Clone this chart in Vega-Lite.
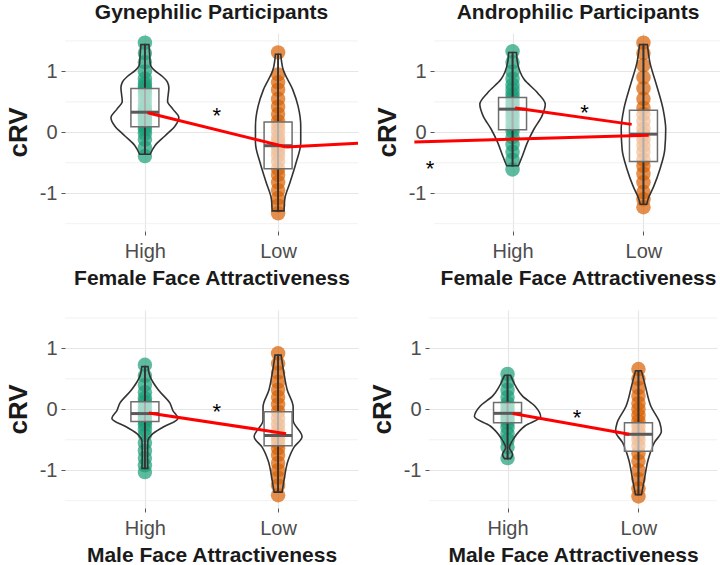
{
  "$schema": "https://vega.github.io/schema/vega-lite/v6.json",
  "background": "white",
  "padding": {"top": 2, "left": 5, "right": 0, "bottom": 0},
  "config": {
    "font": "Liberation Sans",
    "locale": {"number": {"decimal": ".", "thousands": ",", "grouping": [3], "currency": ["$", ""], "minus": "-"}},
    "view": {"stroke": null},
    "axis": {"domain": false, "gridColor": "#e6e6e6", "gridWidth": 1.2, "tickColor": "#555555", "tickSize": 4, "labelFontSize": 20, "labelColor": "#4d4d4d", "titleFontWeight": "bold", "titleColor": "#1a1a1a"},
    "axisX": {"labelAngle": 0, "labelPadding": 6, "titlePadding": 6, "titleFontSize": 21},
    "axisY": {"labelPadding": 4, "titlePadding": 8, "titleFontSize": 26, "format": "d"},
    "title": {"fontSize": 21, "fontWeight": "bold", "color": "#1a1a1a", "offset": 10, "anchor": "middle", "frame": "group"}
  },
  "datasets": {
    "minor_grid": [{"g": -1.5}, {"g": -0.5}, {"g": 0.5}, {"g": 1.5}],
    "points": [
      {"panel": "TL", "group": "High", "v": -0.39}, {"panel": "TL", "group": "High", "v": -0.25}, {"panel": "TL", "group": "High", "v": -0.12}, {"panel": "TL", "group": "High", "v": -0.02}, {"panel": "TL", "group": "High", "v": 0.05}, {"panel": "TL", "group": "High", "v": 0.1}, {"panel": "TL", "group": "High", "v": 0.15}, {"panel": "TL", "group": "High", "v": 0.19}, {"panel": "TL", "group": "High", "v": 0.22}, {"panel": "TL", "group": "High", "v": 0.25}, {"panel": "TL", "group": "High", "v": 0.28}, {"panel": "TL", "group": "High", "v": 0.31}, {"panel": "TL", "group": "High", "v": 0.33}, {"panel": "TL", "group": "High", "v": 0.36}, {"panel": "TL", "group": "High", "v": 0.4}, {"panel": "TL", "group": "High", "v": 0.45}, {"panel": "TL", "group": "High", "v": 0.52}, {"panel": "TL", "group": "High", "v": 0.6}, {"panel": "TL", "group": "High", "v": 0.66}, {"panel": "TL", "group": "High", "v": 0.7}, {"panel": "TL", "group": "High", "v": 0.75}, {"panel": "TL", "group": "High", "v": 0.8}, {"panel": "TL", "group": "High", "v": 0.88}, {"panel": "TL", "group": "High", "v": 1.0}, {"panel": "TL", "group": "High", "v": 1.15}, {"panel": "TL", "group": "High", "v": 1.3}, {"panel": "TL", "group": "High", "v": 1.47},
      {"panel": "TL", "group": "Low", "v": 1.31}, {"panel": "TL", "group": "Low", "v": 0.95}, {"panel": "TL", "group": "Low", "v": 0.82}, {"panel": "TL", "group": "Low", "v": 0.7}, {"panel": "TL", "group": "Low", "v": 0.55}, {"panel": "TL", "group": "Low", "v": 0.42}, {"panel": "TL", "group": "Low", "v": 0.3}, {"panel": "TL", "group": "Low", "v": 0.18}, {"panel": "TL", "group": "Low", "v": 0.1}, {"panel": "TL", "group": "Low", "v": 0.02}, {"panel": "TL", "group": "Low", "v": -0.08}, {"panel": "TL", "group": "Low", "v": -0.15}, {"panel": "TL", "group": "Low", "v": -0.22}, {"panel": "TL", "group": "Low", "v": -0.3}, {"panel": "TL", "group": "Low", "v": -0.38}, {"panel": "TL", "group": "Low", "v": -0.48}, {"panel": "TL", "group": "Low", "v": -0.6}, {"panel": "TL", "group": "Low", "v": -0.7}, {"panel": "TL", "group": "Low", "v": -0.82}, {"panel": "TL", "group": "Low", "v": -0.95}, {"panel": "TL", "group": "Low", "v": -1.08}, {"panel": "TL", "group": "Low", "v": -1.2}, {"panel": "TL", "group": "Low", "v": -1.33},
      {"panel": "TR", "group": "High", "v": 1.33}, {"panel": "TR", "group": "High", "v": 1.15}, {"panel": "TR", "group": "High", "v": 1.0}, {"panel": "TR", "group": "High", "v": 0.88}, {"panel": "TR", "group": "High", "v": 0.78}, {"panel": "TR", "group": "High", "v": 0.7}, {"panel": "TR", "group": "High", "v": 0.62}, {"panel": "TR", "group": "High", "v": 0.56}, {"panel": "TR", "group": "High", "v": 0.5}, {"panel": "TR", "group": "High", "v": 0.45}, {"panel": "TR", "group": "High", "v": 0.4}, {"panel": "TR", "group": "High", "v": 0.36}, {"panel": "TR", "group": "High", "v": 0.3}, {"panel": "TR", "group": "High", "v": 0.24}, {"panel": "TR", "group": "High", "v": 0.16}, {"panel": "TR", "group": "High", "v": 0.08}, {"panel": "TR", "group": "High", "v": 0.02}, {"panel": "TR", "group": "High", "v": -0.08}, {"panel": "TR", "group": "High", "v": -0.2}, {"panel": "TR", "group": "High", "v": -0.32}, {"panel": "TR", "group": "High", "v": -0.45}, {"panel": "TR", "group": "High", "v": -0.61},
      {"panel": "TR", "group": "Low", "v": 1.47}, {"panel": "TR", "group": "Low", "v": 1.3}, {"panel": "TR", "group": "Low", "v": 1.1}, {"panel": "TR", "group": "Low", "v": 0.9}, {"panel": "TR", "group": "Low", "v": 0.72}, {"panel": "TR", "group": "Low", "v": 0.55}, {"panel": "TR", "group": "Low", "v": 0.4}, {"panel": "TR", "group": "Low", "v": 0.3}, {"panel": "TR", "group": "Low", "v": 0.18}, {"panel": "TR", "group": "Low", "v": 0.06}, {"panel": "TR", "group": "Low", "v": -0.03}, {"panel": "TR", "group": "Low", "v": -0.12}, {"panel": "TR", "group": "Low", "v": -0.22}, {"panel": "TR", "group": "Low", "v": -0.32}, {"panel": "TR", "group": "Low", "v": -0.45}, {"panel": "TR", "group": "Low", "v": -0.55}, {"panel": "TR", "group": "Low", "v": -0.68}, {"panel": "TR", "group": "Low", "v": -0.82}, {"panel": "TR", "group": "Low", "v": -0.98}, {"panel": "TR", "group": "Low", "v": -1.1}, {"panel": "TR", "group": "Low", "v": -1.23},
      {"panel": "BL", "group": "High", "v": 0.73}, {"panel": "BL", "group": "High", "v": 0.55}, {"panel": "BL", "group": "High", "v": 0.4}, {"panel": "BL", "group": "High", "v": 0.28}, {"panel": "BL", "group": "High", "v": 0.18}, {"panel": "BL", "group": "High", "v": 0.12}, {"panel": "BL", "group": "High", "v": 0.06}, {"panel": "BL", "group": "High", "v": 0.0}, {"panel": "BL", "group": "High", "v": -0.05}, {"panel": "BL", "group": "High", "v": -0.08}, {"panel": "BL", "group": "High", "v": -0.12}, {"panel": "BL", "group": "High", "v": -0.16}, {"panel": "BL", "group": "High", "v": -0.2}, {"panel": "BL", "group": "High", "v": -0.25}, {"panel": "BL", "group": "High", "v": -0.33}, {"panel": "BL", "group": "High", "v": -0.42}, {"panel": "BL", "group": "High", "v": -0.55}, {"panel": "BL", "group": "High", "v": -0.68}, {"panel": "BL", "group": "High", "v": -0.8}, {"panel": "BL", "group": "High", "v": -0.92}, {"panel": "BL", "group": "High", "v": -1.03},
      {"panel": "BL", "group": "Low", "v": 0.92}, {"panel": "BL", "group": "Low", "v": 0.75}, {"panel": "BL", "group": "Low", "v": 0.6}, {"panel": "BL", "group": "Low", "v": 0.45}, {"panel": "BL", "group": "Low", "v": 0.32}, {"panel": "BL", "group": "Low", "v": 0.2}, {"panel": "BL", "group": "Low", "v": 0.08}, {"panel": "BL", "group": "Low", "v": -0.04}, {"panel": "BL", "group": "Low", "v": -0.15}, {"panel": "BL", "group": "Low", "v": -0.25}, {"panel": "BL", "group": "Low", "v": -0.34}, {"panel": "BL", "group": "Low", "v": -0.42}, {"panel": "BL", "group": "Low", "v": -0.48}, {"panel": "BL", "group": "Low", "v": -0.55}, {"panel": "BL", "group": "Low", "v": -0.64}, {"panel": "BL", "group": "Low", "v": -0.75}, {"panel": "BL", "group": "Low", "v": -0.88}, {"panel": "BL", "group": "Low", "v": -1.0}, {"panel": "BL", "group": "Low", "v": -1.12}, {"panel": "BL", "group": "Low", "v": -1.25}, {"panel": "BL", "group": "Low", "v": -1.41},
      {"panel": "BR", "group": "High", "v": 0.58}, {"panel": "BR", "group": "High", "v": 0.45}, {"panel": "BR", "group": "High", "v": 0.32}, {"panel": "BR", "group": "High", "v": 0.2}, {"panel": "BR", "group": "High", "v": 0.1}, {"panel": "BR", "group": "High", "v": 0.04}, {"panel": "BR", "group": "High", "v": -0.02}, {"panel": "BR", "group": "High", "v": -0.07}, {"panel": "BR", "group": "High", "v": -0.12}, {"panel": "BR", "group": "High", "v": -0.16}, {"panel": "BR", "group": "High", "v": -0.22}, {"panel": "BR", "group": "High", "v": -0.3}, {"panel": "BR", "group": "High", "v": -0.4}, {"panel": "BR", "group": "High", "v": -0.5}, {"panel": "BR", "group": "High", "v": -0.62}, {"panel": "BR", "group": "High", "v": -0.8},
      {"panel": "BR", "group": "Low", "v": 0.66}, {"panel": "BR", "group": "Low", "v": 0.5}, {"panel": "BR", "group": "Low", "v": 0.35}, {"panel": "BR", "group": "Low", "v": 0.22}, {"panel": "BR", "group": "Low", "v": 0.1}, {"panel": "BR", "group": "Low", "v": 0.0}, {"panel": "BR", "group": "Low", "v": -0.1}, {"panel": "BR", "group": "Low", "v": -0.2}, {"panel": "BR", "group": "Low", "v": -0.28}, {"panel": "BR", "group": "Low", "v": -0.36}, {"panel": "BR", "group": "Low", "v": -0.42}, {"panel": "BR", "group": "Low", "v": -0.5}, {"panel": "BR", "group": "Low", "v": -0.6}, {"panel": "BR", "group": "Low", "v": -0.72}, {"panel": "BR", "group": "Low", "v": -0.85}, {"panel": "BR", "group": "Low", "v": -1.0}, {"panel": "BR", "group": "Low", "v": -1.15}, {"panel": "BR", "group": "Low", "v": -1.3}, {"panel": "BR", "group": "Low", "v": -1.43}
    ],
    "violin": [
      {"panel": "TL", "group": "High", "v": 1.44, "w": 0.03}, {"panel": "TL", "group": "High", "v": 1.3, "w": 0.035}, {"panel": "TL", "group": "High", "v": 1.12, "w": 0.04}, {"panel": "TL", "group": "High", "v": 1.02, "w": 0.07}, {"panel": "TL", "group": "High", "v": 0.92, "w": 0.13}, {"panel": "TL", "group": "High", "v": 0.82, "w": 0.17}, {"panel": "TL", "group": "High", "v": 0.73, "w": 0.18}, {"panel": "TL", "group": "High", "v": 0.62, "w": 0.175}, {"panel": "TL", "group": "High", "v": 0.51, "w": 0.17}, {"panel": "TL", "group": "High", "v": 0.38, "w": 0.21}, {"panel": "TL", "group": "High", "v": 0.24, "w": 0.255}, {"panel": "TL", "group": "High", "v": 0.1, "w": 0.225}, {"panel": "TL", "group": "High", "v": -0.06, "w": 0.15}, {"panel": "TL", "group": "High", "v": -0.22, "w": 0.075}, {"panel": "TL", "group": "High", "v": -0.36, "w": 0.04},
      {"panel": "TL", "group": "Low", "v": 1.28, "w": 0.02}, {"panel": "TL", "group": "Low", "v": 1.03, "w": 0.038}, {"panel": "TL", "group": "Low", "v": 0.7, "w": 0.11}, {"panel": "TL", "group": "Low", "v": 0.43, "w": 0.15}, {"panel": "TL", "group": "Low", "v": 0.1, "w": 0.17}, {"panel": "TL", "group": "Low", "v": -0.17, "w": 0.17}, {"panel": "TL", "group": "Low", "v": -0.5, "w": 0.135}, {"panel": "TL", "group": "Low", "v": -0.82, "w": 0.09}, {"panel": "TL", "group": "Low", "v": -1.1, "w": 0.05}, {"panel": "TL", "group": "Low", "v": -1.29, "w": 0.045},
      {"panel": "TR", "group": "High", "v": 1.31, "w": 0.03}, {"panel": "TR", "group": "High", "v": 1.14, "w": 0.038}, {"panel": "TR", "group": "High", "v": 0.87, "w": 0.088}, {"panel": "TR", "group": "High", "v": 0.65, "w": 0.19}, {"panel": "TR", "group": "High", "v": 0.46, "w": 0.25}, {"panel": "TR", "group": "High", "v": 0.27, "w": 0.225}, {"panel": "TR", "group": "High", "v": 0.05, "w": 0.163}, {"panel": "TR", "group": "High", "v": -0.17, "w": 0.113}, {"panel": "TR", "group": "High", "v": -0.39, "w": 0.075}, {"panel": "TR", "group": "High", "v": -0.55, "w": 0.045},
      {"panel": "TR", "group": "Low", "v": 1.44, "w": 0.03}, {"panel": "TR", "group": "Low", "v": 1.14, "w": 0.05}, {"panel": "TR", "group": "Low", "v": 0.81, "w": 0.095}, {"panel": "TR", "group": "Low", "v": 0.38, "w": 0.15}, {"panel": "TR", "group": "Low", "v": 0.05, "w": 0.17}, {"panel": "TR", "group": "Low", "v": -0.28, "w": 0.163}, {"panel": "TR", "group": "Low", "v": -0.61, "w": 0.125}, {"panel": "TR", "group": "Low", "v": -0.88, "w": 0.08}, {"panel": "TR", "group": "Low", "v": -1.1, "w": 0.035}, {"panel": "TR", "group": "Low", "v": -1.18, "w": 0.025},
      {"panel": "BL", "group": "High", "v": 0.7, "w": 0.023}, {"panel": "BL", "group": "High", "v": 0.54, "w": 0.038}, {"panel": "BL", "group": "High", "v": 0.32, "w": 0.1}, {"panel": "BL", "group": "High", "v": 0.1, "w": 0.188}, {"panel": "BL", "group": "High", "v": -0.02, "w": 0.21}, {"panel": "BL", "group": "High", "v": -0.15, "w": 0.248}, {"panel": "BL", "group": "High", "v": -0.29, "w": 0.138}, {"panel": "BL", "group": "High", "v": -0.42, "w": 0.05}, {"panel": "BL", "group": "High", "v": -0.52, "w": 0.022}, {"panel": "BL", "group": "High", "v": -0.75, "w": 0.02}, {"panel": "BL", "group": "High", "v": -0.97, "w": 0.022},
      {"panel": "BL", "group": "Low", "v": 0.89, "w": 0.023}, {"panel": "BL", "group": "Low", "v": 0.59, "w": 0.044}, {"panel": "BL", "group": "Low", "v": 0.32, "w": 0.068}, {"panel": "BL", "group": "Low", "v": 0.04, "w": 0.113}, {"panel": "BL", "group": "Low", "v": -0.18, "w": 0.113}, {"panel": "BL", "group": "Low", "v": -0.45, "w": 0.18}, {"panel": "BL", "group": "Low", "v": -0.62, "w": 0.12}, {"panel": "BL", "group": "Low", "v": -0.84, "w": 0.075}, {"panel": "BL", "group": "Low", "v": -1.16, "w": 0.045}, {"panel": "BL", "group": "Low", "v": -1.36, "w": 0.03},
      {"panel": "BR", "group": "High", "v": 0.56, "w": 0.023}, {"panel": "BR", "group": "High", "v": 0.38, "w": 0.062}, {"panel": "BR", "group": "High", "v": 0.22, "w": 0.113}, {"panel": "BR", "group": "High", "v": 0.05, "w": 0.21}, {"panel": "BR", "group": "High", "v": -0.12, "w": 0.253}, {"panel": "BR", "group": "High", "v": -0.27, "w": 0.135}, {"panel": "BR", "group": "High", "v": -0.47, "w": 0.05}, {"panel": "BR", "group": "High", "v": -0.63, "w": 0.015}, {"panel": "BR", "group": "High", "v": -0.74, "w": 0.038}, {"panel": "BR", "group": "High", "v": -0.81, "w": 0.023},
      {"panel": "BR", "group": "Low", "v": 0.63, "w": 0.023}, {"panel": "BR", "group": "Low", "v": 0.38, "w": 0.053}, {"panel": "BR", "group": "Low", "v": 0.05, "w": 0.095}, {"panel": "BR", "group": "Low", "v": -0.22, "w": 0.163}, {"panel": "BR", "group": "Low", "v": -0.36, "w": 0.175}, {"panel": "BR", "group": "Low", "v": -0.55, "w": 0.12}, {"panel": "BR", "group": "Low", "v": -0.82, "w": 0.075}, {"panel": "BR", "group": "Low", "v": -1.15, "w": 0.045}, {"panel": "BR", "group": "Low", "v": -1.4, "w": 0.023}
    ],
    "boxes": [
      {"panel": "TL", "group": "High", "q1": 0.09, "median": 0.33, "q3": 0.72},
      {"panel": "TL", "group": "Low", "q1": -0.6, "median": -0.22, "q3": 0.17},
      {"panel": "TR", "group": "High", "q1": 0.04, "median": 0.38, "q3": 0.57},
      {"panel": "TR", "group": "Low", "q1": -0.48, "median": -0.03, "q3": 0.36},
      {"panel": "BL", "group": "High", "q1": -0.2, "median": -0.07, "q3": 0.125},
      {"panel": "BL", "group": "Low", "q1": -0.6, "median": -0.43, "q3": -0.04},
      {"panel": "BR", "group": "High", "q1": -0.22, "median": -0.066, "q3": 0.11},
      {"panel": "BR", "group": "Low", "q1": -0.69, "median": -0.41, "q3": -0.22}
    ],
    "links": [
      {"panel": "TL", "seg": "a", "x": 0.62, "y": 0.32}, {"panel": "TL", "seg": "a", "x": 1.66, "y": -0.24},
      {"panel": "TL", "seg": "b", "x": 1.66, "y": -0.24}, {"panel": "TL", "seg": "b", "x": 2.2, "y": -0.18},
      {"panel": "TR", "seg": "a", "x": 0.62, "y": 0.4}, {"panel": "TR", "seg": "a", "x": 1.51, "y": 0.13},
      {"panel": "TR", "seg": "b", "x": -0.15, "y": -0.16}, {"panel": "TR", "seg": "b", "x": 1.64, "y": -0.05},
      {"panel": "BL", "seg": "a", "x": 0.63, "y": -0.06}, {"panel": "BL", "seg": "a", "x": 1.66, "y": -0.4},
      {"panel": "BR", "seg": "a", "x": 0.64, "y": -0.07}, {"panel": "BR", "seg": "a", "x": 1.53, "y": -0.41}
    ],
    "stars": [
      {"panel": "TL", "x": 1.14, "y": 0.46, "label": "*"},
      {"panel": "TR", "x": 1.15, "y": 0.51, "label": "*"},
      {"panel": "TR", "x": -0.03, "y": -0.41, "label": "*"},
      {"panel": "BL", "x": 1.14, "y": 0.15, "label": "*"},
      {"panel": "BR", "x": 1.13, "y": 0.05, "label": "*"}
    ]
  },
  "spacing": 22,
  "vconcat": [
    {
      "spacing": 10,
      "hconcat": [
        {
          "width": 293, "height": 198,
          "title": {"text": "Gynephilic Participants"},
          "resolve": {"scale": {"x": "independent"}},
          "layer": [
            {"data": {"name": "minor_grid"}, "mark": {"type": "rule", "color": "#eeeeee", "strokeWidth": 0.8},
             "encoding": {"y": {"field": "g", "type": "quantitative", "scale": {"domain": [-1.62, 1.63], "nice": false, "zero": false}}}},
            {"data": {"name": "points"}, "transform": [{"filter": "datum.panel === 'TL'"}],
             "mark": {"type": "circle", "size": 210, "opacity": 0.7},
             "encoding": {
               "x": {"field": "group", "type": "nominal", "scale": {"type": "point", "domain": ["High", "Low"], "padding": 0.6}, "axis": {"title": "Female Face Attractiveness", "grid": true}},
               "y": {"field": "v", "type": "quantitative", "scale": {"domain": [-1.62, 1.63], "nice": false, "zero": false}, "axis": {"title": "cRV", "values": [-1, 0, 1]}},
               "color": {"field": "group", "type": "nominal", "scale": {"domain": ["High", "Low"], "range": ["#1b9e77", "#d95f02"]}, "legend": null}}},
            {"data": {"name": "violin"}, "transform": [{"filter": "datum.panel === 'TL' && datum.group === 'High'"}],
             "mark": {"type": "area", "orient": "horizontal", "interpolate": "monotone", "fillOpacity": 0, "stroke": "#333333", "strokeWidth": 1.6},
             "encoding": {"y": {"field": "v", "type": "quantitative", "scale": {"domain": [-1.62, 1.63], "nice": false, "zero": false}},
               "x": {"field": "w", "type": "quantitative", "scale": {"domain": [-0.6, 1.6], "nice": false, "zero": false}, "axis": null}, "x2": {"datum": 0}}},
            {"data": {"name": "violin"}, "transform": [{"filter": "datum.panel === 'TL' && datum.group === 'High'"}],
             "mark": {"type": "area", "orient": "horizontal", "interpolate": "monotone", "fillOpacity": 0, "stroke": "#333333", "strokeWidth": 1.6},
             "encoding": {"y": {"field": "v", "type": "quantitative", "scale": {"domain": [-1.62, 1.63], "nice": false, "zero": false}},
               "x": {"field": "w", "type": "quantitative", "scale": {"domain": [-1.6, 0.6], "reverse": true, "nice": false, "zero": false}, "axis": null}, "x2": {"datum": 0}}},
            {"data": {"name": "violin"}, "transform": [{"filter": "datum.panel === 'TL' && datum.group === 'Low'"}],
             "mark": {"type": "area", "orient": "horizontal", "interpolate": "monotone", "fillOpacity": 0, "stroke": "#333333", "strokeWidth": 1.6},
             "encoding": {"y": {"field": "v", "type": "quantitative", "scale": {"domain": [-1.62, 1.63], "nice": false, "zero": false}},
               "x": {"field": "w", "type": "quantitative", "scale": {"domain": [-1.6, 0.6], "nice": false, "zero": false}, "axis": null}, "x2": {"datum": 0}}},
            {"data": {"name": "violin"}, "transform": [{"filter": "datum.panel === 'TL' && datum.group === 'Low'"}],
             "mark": {"type": "area", "orient": "horizontal", "interpolate": "monotone", "fillOpacity": 0, "stroke": "#333333", "strokeWidth": 1.6},
             "encoding": {"y": {"field": "v", "type": "quantitative", "scale": {"domain": [-1.62, 1.63], "nice": false, "zero": false}},
               "x": {"field": "w", "type": "quantitative", "scale": {"domain": [-0.6, 1.6], "reverse": true, "nice": false, "zero": false}, "axis": null}, "x2": {"datum": 0}}},
            {"data": {"name": "boxes"}, "transform": [{"filter": "datum.panel === 'TL'"}],
             "mark": {"type": "bar", "width": 28, "fill": "#ffffff", "fillOpacity": 0.6, "stroke": "#6e6e6e", "strokeWidth": 1.5},
             "encoding": {"x": {"field": "group", "type": "nominal", "scale": {"type": "point", "domain": ["High", "Low"], "padding": 0.6}, "axis": null},
               "y": {"field": "q1", "type": "quantitative", "scale": {"domain": [-1.62, 1.63], "nice": false, "zero": false}}, "y2": {"field": "q3"}}},
            {"data": {"name": "boxes"}, "transform": [{"filter": "datum.panel === 'TL'"}],
             "mark": {"type": "tick", "size": 28, "thickness": 3, "color": "#5a5a5a", "opacity": 1},
             "encoding": {"x": {"field": "group", "type": "nominal", "scale": {"type": "point", "domain": ["High", "Low"], "padding": 0.6}, "axis": null},
               "y": {"field": "median", "type": "quantitative", "scale": {"domain": [-1.62, 1.63], "nice": false, "zero": false}}}},
            {"data": {"name": "links"}, "transform": [{"filter": "datum.panel === 'TL'"}],
             "mark": {"type": "line", "color": "#ff0000", "strokeWidth": 3, "clip": false},
             "encoding": {"x": {"field": "x", "type": "quantitative", "scale": {"domain": [0, 2.2], "nice": false, "zero": false}, "axis": null},
               "y": {"field": "y", "type": "quantitative", "scale": {"domain": [-1.62, 1.63], "nice": false, "zero": false}}, "detail": {"field": "seg", "type": "nominal"}}},
            {"data": {"name": "stars"}, "transform": [{"filter": "datum.panel === 'TL'"}],
             "mark": {"type": "text", "fontSize": 22, "dy": 12, "color": "#000000"},
             "encoding": {"x": {"field": "x", "type": "quantitative", "scale": {"domain": [0, 2.2], "nice": false, "zero": false}, "axis": null},
               "y": {"field": "y", "type": "quantitative", "scale": {"domain": [-1.62, 1.63], "nice": false, "zero": false}}, "text": {"field": "label"}}}
          ]
        },
        {
          "width": 288, "height": 198,
          "title": {"text": "Androphilic Participants"},
          "resolve": {"scale": {"x": "independent"}},
          "layer": [
            {"data": {"name": "minor_grid"}, "mark": {"type": "rule", "color": "#eeeeee", "strokeWidth": 0.8},
             "encoding": {"y": {"field": "g", "type": "quantitative", "scale": {"domain": [-1.62, 1.63], "nice": false, "zero": false}}}},
            {"data": {"name": "points"}, "transform": [{"filter": "datum.panel === 'TR'"}],
             "mark": {"type": "circle", "size": 210, "opacity": 0.7},
             "encoding": {
               "x": {"field": "group", "type": "nominal", "scale": {"type": "point", "domain": ["High", "Low"], "padding": 0.6}, "axis": {"title": "Female Face Attractiveness", "grid": true}},
               "y": {"field": "v", "type": "quantitative", "scale": {"domain": [-1.62, 1.63], "nice": false, "zero": false}, "axis": {"title": "cRV", "values": [-1, 0, 1]}},
               "color": {"field": "group", "type": "nominal", "scale": {"domain": ["High", "Low"], "range": ["#1b9e77", "#d95f02"]}, "legend": null}}},
            {"data": {"name": "violin"}, "transform": [{"filter": "datum.panel === 'TR' && datum.group === 'High'"}],
             "mark": {"type": "area", "orient": "horizontal", "interpolate": "monotone", "fillOpacity": 0, "stroke": "#333333", "strokeWidth": 1.6},
             "encoding": {"y": {"field": "v", "type": "quantitative", "scale": {"domain": [-1.62, 1.63], "nice": false, "zero": false}},
               "x": {"field": "w", "type": "quantitative", "scale": {"domain": [-0.6, 1.6], "nice": false, "zero": false}, "axis": null}, "x2": {"datum": 0}}},
            {"data": {"name": "violin"}, "transform": [{"filter": "datum.panel === 'TR' && datum.group === 'High'"}],
             "mark": {"type": "area", "orient": "horizontal", "interpolate": "monotone", "fillOpacity": 0, "stroke": "#333333", "strokeWidth": 1.6},
             "encoding": {"y": {"field": "v", "type": "quantitative", "scale": {"domain": [-1.62, 1.63], "nice": false, "zero": false}},
               "x": {"field": "w", "type": "quantitative", "scale": {"domain": [-1.6, 0.6], "reverse": true, "nice": false, "zero": false}, "axis": null}, "x2": {"datum": 0}}},
            {"data": {"name": "violin"}, "transform": [{"filter": "datum.panel === 'TR' && datum.group === 'Low'"}],
             "mark": {"type": "area", "orient": "horizontal", "interpolate": "monotone", "fillOpacity": 0, "stroke": "#333333", "strokeWidth": 1.6},
             "encoding": {"y": {"field": "v", "type": "quantitative", "scale": {"domain": [-1.62, 1.63], "nice": false, "zero": false}},
               "x": {"field": "w", "type": "quantitative", "scale": {"domain": [-1.6, 0.6], "nice": false, "zero": false}, "axis": null}, "x2": {"datum": 0}}},
            {"data": {"name": "violin"}, "transform": [{"filter": "datum.panel === 'TR' && datum.group === 'Low'"}],
             "mark": {"type": "area", "orient": "horizontal", "interpolate": "monotone", "fillOpacity": 0, "stroke": "#333333", "strokeWidth": 1.6},
             "encoding": {"y": {"field": "v", "type": "quantitative", "scale": {"domain": [-1.62, 1.63], "nice": false, "zero": false}},
               "x": {"field": "w", "type": "quantitative", "scale": {"domain": [-0.6, 1.6], "reverse": true, "nice": false, "zero": false}, "axis": null}, "x2": {"datum": 0}}},
            {"data": {"name": "boxes"}, "transform": [{"filter": "datum.panel === 'TR'"}],
             "mark": {"type": "bar", "width": 28, "fill": "#ffffff", "fillOpacity": 0.6, "stroke": "#6e6e6e", "strokeWidth": 1.5},
             "encoding": {"x": {"field": "group", "type": "nominal", "scale": {"type": "point", "domain": ["High", "Low"], "padding": 0.6}, "axis": null},
               "y": {"field": "q1", "type": "quantitative", "scale": {"domain": [-1.62, 1.63], "nice": false, "zero": false}}, "y2": {"field": "q3"}}},
            {"data": {"name": "boxes"}, "transform": [{"filter": "datum.panel === 'TR'"}],
             "mark": {"type": "tick", "size": 28, "thickness": 3, "color": "#5a5a5a", "opacity": 1},
             "encoding": {"x": {"field": "group", "type": "nominal", "scale": {"type": "point", "domain": ["High", "Low"], "padding": 0.6}, "axis": null},
               "y": {"field": "median", "type": "quantitative", "scale": {"domain": [-1.62, 1.63], "nice": false, "zero": false}}}},
            {"data": {"name": "links"}, "transform": [{"filter": "datum.panel === 'TR'"}],
             "mark": {"type": "line", "color": "#ff0000", "strokeWidth": 3, "clip": false},
             "encoding": {"x": {"field": "x", "type": "quantitative", "scale": {"domain": [0, 2.2], "nice": false, "zero": false}, "axis": null},
               "y": {"field": "y", "type": "quantitative", "scale": {"domain": [-1.62, 1.63], "nice": false, "zero": false}}, "detail": {"field": "seg", "type": "nominal"}}},
            {"data": {"name": "stars"}, "transform": [{"filter": "datum.panel === 'TR'"}],
             "mark": {"type": "text", "fontSize": 22, "dy": 12, "color": "#000000"},
             "encoding": {"x": {"field": "x", "type": "quantitative", "scale": {"domain": [0, 2.2], "nice": false, "zero": false}, "axis": null},
               "y": {"field": "y", "type": "quantitative", "scale": {"domain": [-1.62, 1.63], "nice": false, "zero": false}}, "text": {"field": "label"}}}
          ]
        }
      ]
    },
    {
      "spacing": 10,
      "hconcat": [
        {
          "width": 293, "height": 198,
          "resolve": {"scale": {"x": "independent"}},
          "layer": [
            {"data": {"name": "minor_grid"}, "mark": {"type": "rule", "color": "#eeeeee", "strokeWidth": 0.8},
             "encoding": {"y": {"field": "g", "type": "quantitative", "scale": {"domain": [-1.62, 1.63], "nice": false, "zero": false}}}},
            {"data": {"name": "points"}, "transform": [{"filter": "datum.panel === 'BL'"}],
             "mark": {"type": "circle", "size": 210, "opacity": 0.7},
             "encoding": {
               "x": {"field": "group", "type": "nominal", "scale": {"type": "point", "domain": ["High", "Low"], "padding": 0.6}, "axis": {"title": "Male Face Attractiveness", "grid": true}},
               "y": {"field": "v", "type": "quantitative", "scale": {"domain": [-1.62, 1.63], "nice": false, "zero": false}, "axis": {"title": "cRV", "values": [-1, 0, 1]}},
               "color": {"field": "group", "type": "nominal", "scale": {"domain": ["High", "Low"], "range": ["#1b9e77", "#d95f02"]}, "legend": null}}},
            {"data": {"name": "violin"}, "transform": [{"filter": "datum.panel === 'BL' && datum.group === 'High'"}],
             "mark": {"type": "area", "orient": "horizontal", "interpolate": "monotone", "fillOpacity": 0, "stroke": "#333333", "strokeWidth": 1.6},
             "encoding": {"y": {"field": "v", "type": "quantitative", "scale": {"domain": [-1.62, 1.63], "nice": false, "zero": false}},
               "x": {"field": "w", "type": "quantitative", "scale": {"domain": [-0.6, 1.6], "nice": false, "zero": false}, "axis": null}, "x2": {"datum": 0}}},
            {"data": {"name": "violin"}, "transform": [{"filter": "datum.panel === 'BL' && datum.group === 'High'"}],
             "mark": {"type": "area", "orient": "horizontal", "interpolate": "monotone", "fillOpacity": 0, "stroke": "#333333", "strokeWidth": 1.6},
             "encoding": {"y": {"field": "v", "type": "quantitative", "scale": {"domain": [-1.62, 1.63], "nice": false, "zero": false}},
               "x": {"field": "w", "type": "quantitative", "scale": {"domain": [-1.6, 0.6], "reverse": true, "nice": false, "zero": false}, "axis": null}, "x2": {"datum": 0}}},
            {"data": {"name": "violin"}, "transform": [{"filter": "datum.panel === 'BL' && datum.group === 'Low'"}],
             "mark": {"type": "area", "orient": "horizontal", "interpolate": "monotone", "fillOpacity": 0, "stroke": "#333333", "strokeWidth": 1.6},
             "encoding": {"y": {"field": "v", "type": "quantitative", "scale": {"domain": [-1.62, 1.63], "nice": false, "zero": false}},
               "x": {"field": "w", "type": "quantitative", "scale": {"domain": [-1.6, 0.6], "nice": false, "zero": false}, "axis": null}, "x2": {"datum": 0}}},
            {"data": {"name": "violin"}, "transform": [{"filter": "datum.panel === 'BL' && datum.group === 'Low'"}],
             "mark": {"type": "area", "orient": "horizontal", "interpolate": "monotone", "fillOpacity": 0, "stroke": "#333333", "strokeWidth": 1.6},
             "encoding": {"y": {"field": "v", "type": "quantitative", "scale": {"domain": [-1.62, 1.63], "nice": false, "zero": false}},
               "x": {"field": "w", "type": "quantitative", "scale": {"domain": [-0.6, 1.6], "reverse": true, "nice": false, "zero": false}, "axis": null}, "x2": {"datum": 0}}},
            {"data": {"name": "boxes"}, "transform": [{"filter": "datum.panel === 'BL'"}],
             "mark": {"type": "bar", "width": 28, "fill": "#ffffff", "fillOpacity": 0.6, "stroke": "#6e6e6e", "strokeWidth": 1.5},
             "encoding": {"x": {"field": "group", "type": "nominal", "scale": {"type": "point", "domain": ["High", "Low"], "padding": 0.6}, "axis": null},
               "y": {"field": "q1", "type": "quantitative", "scale": {"domain": [-1.62, 1.63], "nice": false, "zero": false}}, "y2": {"field": "q3"}}},
            {"data": {"name": "boxes"}, "transform": [{"filter": "datum.panel === 'BL'"}],
             "mark": {"type": "tick", "size": 28, "thickness": 3, "color": "#5a5a5a", "opacity": 1},
             "encoding": {"x": {"field": "group", "type": "nominal", "scale": {"type": "point", "domain": ["High", "Low"], "padding": 0.6}, "axis": null},
               "y": {"field": "median", "type": "quantitative", "scale": {"domain": [-1.62, 1.63], "nice": false, "zero": false}}}},
            {"data": {"name": "links"}, "transform": [{"filter": "datum.panel === 'BL'"}],
             "mark": {"type": "line", "color": "#ff0000", "strokeWidth": 3, "clip": false},
             "encoding": {"x": {"field": "x", "type": "quantitative", "scale": {"domain": [0, 2.2], "nice": false, "zero": false}, "axis": null},
               "y": {"field": "y", "type": "quantitative", "scale": {"domain": [-1.62, 1.63], "nice": false, "zero": false}}, "detail": {"field": "seg", "type": "nominal"}}},
            {"data": {"name": "stars"}, "transform": [{"filter": "datum.panel === 'BL'"}],
             "mark": {"type": "text", "fontSize": 22, "dy": 12, "color": "#000000"},
             "encoding": {"x": {"field": "x", "type": "quantitative", "scale": {"domain": [0, 2.2], "nice": false, "zero": false}, "axis": null},
               "y": {"field": "y", "type": "quantitative", "scale": {"domain": [-1.62, 1.63], "nice": false, "zero": false}}, "text": {"field": "label"}}}
          ]
        },
        {
          "width": 288, "height": 198,
          "resolve": {"scale": {"x": "independent"}},
          "layer": [
            {"data": {"name": "minor_grid"}, "mark": {"type": "rule", "color": "#eeeeee", "strokeWidth": 0.8},
             "encoding": {"y": {"field": "g", "type": "quantitative", "scale": {"domain": [-1.62, 1.63], "nice": false, "zero": false}}}},
            {"data": {"name": "points"}, "transform": [{"filter": "datum.panel === 'BR'"}],
             "mark": {"type": "circle", "size": 210, "opacity": 0.7},
             "encoding": {
               "x": {"field": "group", "type": "nominal", "scale": {"type": "point", "domain": ["High", "Low"], "padding": 0.6}, "axis": {"title": "Male Face Attractiveness", "grid": true}},
               "y": {"field": "v", "type": "quantitative", "scale": {"domain": [-1.62, 1.63], "nice": false, "zero": false}, "axis": {"title": "cRV", "values": [-1, 0, 1]}},
               "color": {"field": "group", "type": "nominal", "scale": {"domain": ["High", "Low"], "range": ["#1b9e77", "#d95f02"]}, "legend": null}}},
            {"data": {"name": "violin"}, "transform": [{"filter": "datum.panel === 'BR' && datum.group === 'High'"}],
             "mark": {"type": "area", "orient": "horizontal", "interpolate": "monotone", "fillOpacity": 0, "stroke": "#333333", "strokeWidth": 1.6},
             "encoding": {"y": {"field": "v", "type": "quantitative", "scale": {"domain": [-1.62, 1.63], "nice": false, "zero": false}},
               "x": {"field": "w", "type": "quantitative", "scale": {"domain": [-0.6, 1.6], "nice": false, "zero": false}, "axis": null}, "x2": {"datum": 0}}},
            {"data": {"name": "violin"}, "transform": [{"filter": "datum.panel === 'BR' && datum.group === 'High'"}],
             "mark": {"type": "area", "orient": "horizontal", "interpolate": "monotone", "fillOpacity": 0, "stroke": "#333333", "strokeWidth": 1.6},
             "encoding": {"y": {"field": "v", "type": "quantitative", "scale": {"domain": [-1.62, 1.63], "nice": false, "zero": false}},
               "x": {"field": "w", "type": "quantitative", "scale": {"domain": [-1.6, 0.6], "reverse": true, "nice": false, "zero": false}, "axis": null}, "x2": {"datum": 0}}},
            {"data": {"name": "violin"}, "transform": [{"filter": "datum.panel === 'BR' && datum.group === 'Low'"}],
             "mark": {"type": "area", "orient": "horizontal", "interpolate": "monotone", "fillOpacity": 0, "stroke": "#333333", "strokeWidth": 1.6},
             "encoding": {"y": {"field": "v", "type": "quantitative", "scale": {"domain": [-1.62, 1.63], "nice": false, "zero": false}},
               "x": {"field": "w", "type": "quantitative", "scale": {"domain": [-1.6, 0.6], "nice": false, "zero": false}, "axis": null}, "x2": {"datum": 0}}},
            {"data": {"name": "violin"}, "transform": [{"filter": "datum.panel === 'BR' && datum.group === 'Low'"}],
             "mark": {"type": "area", "orient": "horizontal", "interpolate": "monotone", "fillOpacity": 0, "stroke": "#333333", "strokeWidth": 1.6},
             "encoding": {"y": {"field": "v", "type": "quantitative", "scale": {"domain": [-1.62, 1.63], "nice": false, "zero": false}},
               "x": {"field": "w", "type": "quantitative", "scale": {"domain": [-0.6, 1.6], "reverse": true, "nice": false, "zero": false}, "axis": null}, "x2": {"datum": 0}}},
            {"data": {"name": "boxes"}, "transform": [{"filter": "datum.panel === 'BR'"}],
             "mark": {"type": "bar", "width": 28, "fill": "#ffffff", "fillOpacity": 0.6, "stroke": "#6e6e6e", "strokeWidth": 1.5},
             "encoding": {"x": {"field": "group", "type": "nominal", "scale": {"type": "point", "domain": ["High", "Low"], "padding": 0.6}, "axis": null},
               "y": {"field": "q1", "type": "quantitative", "scale": {"domain": [-1.62, 1.63], "nice": false, "zero": false}}, "y2": {"field": "q3"}}},
            {"data": {"name": "boxes"}, "transform": [{"filter": "datum.panel === 'BR'"}],
             "mark": {"type": "tick", "size": 28, "thickness": 3, "color": "#5a5a5a", "opacity": 1},
             "encoding": {"x": {"field": "group", "type": "nominal", "scale": {"type": "point", "domain": ["High", "Low"], "padding": 0.6}, "axis": null},
               "y": {"field": "median", "type": "quantitative", "scale": {"domain": [-1.62, 1.63], "nice": false, "zero": false}}}},
            {"data": {"name": "links"}, "transform": [{"filter": "datum.panel === 'BR'"}],
             "mark": {"type": "line", "color": "#ff0000", "strokeWidth": 3, "clip": false},
             "encoding": {"x": {"field": "x", "type": "quantitative", "scale": {"domain": [0, 2.2], "nice": false, "zero": false}, "axis": null},
               "y": {"field": "y", "type": "quantitative", "scale": {"domain": [-1.62, 1.63], "nice": false, "zero": false}}, "detail": {"field": "seg", "type": "nominal"}}},
            {"data": {"name": "stars"}, "transform": [{"filter": "datum.panel === 'BR'"}],
             "mark": {"type": "text", "fontSize": 22, "dy": 12, "color": "#000000"},
             "encoding": {"x": {"field": "x", "type": "quantitative", "scale": {"domain": [0, 2.2], "nice": false, "zero": false}, "axis": null},
               "y": {"field": "y", "type": "quantitative", "scale": {"domain": [-1.62, 1.63], "nice": false, "zero": false}}, "text": {"field": "label"}}}
          ]
        }
      ]
    }
  ]
}
